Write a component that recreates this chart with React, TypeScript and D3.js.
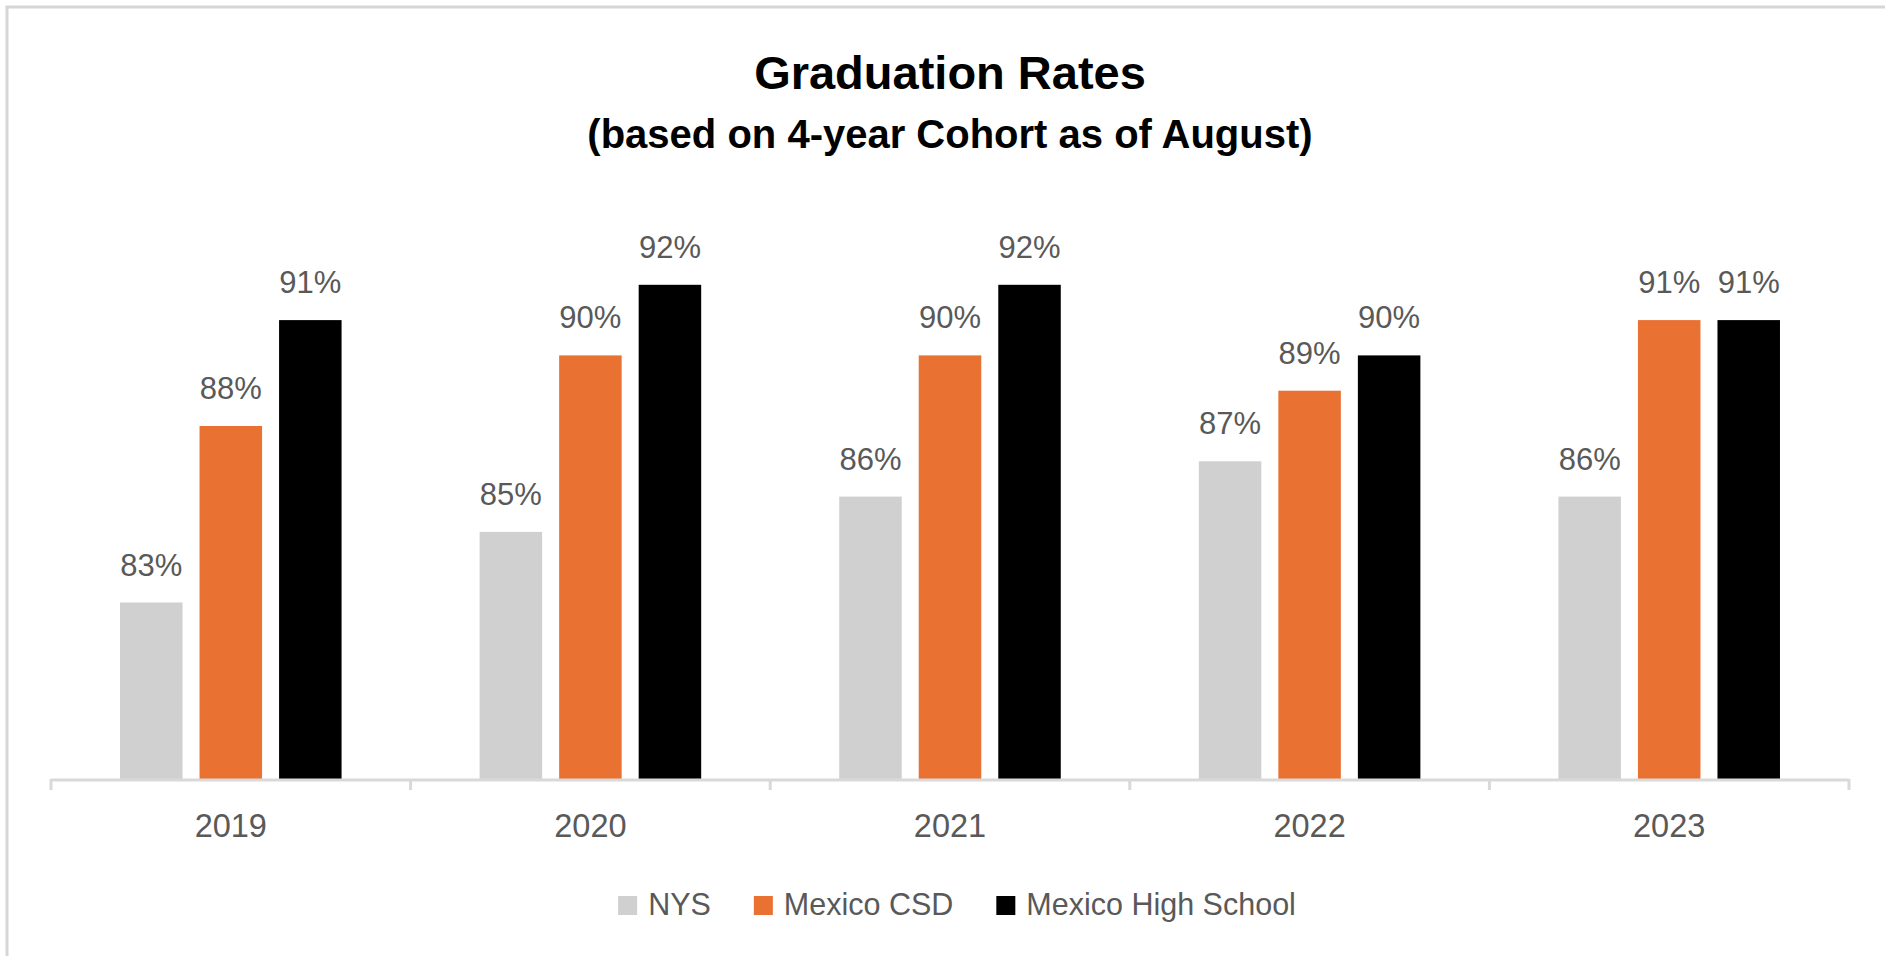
import React, { useEffect, useRef } from "react";
import * as d3 from "d3";

const years = ["2019", "2020", "2021", "2022", "2023"];
const seriesNames = ["NYS", "Mexico CSD", "Mexico High School"];
const nysRates = [83, 85, 86, 87, 86];
const csdRates = [88, 90, 90, 89, 91];
const highSchoolRates = [91, 92, 92, 90, 91];
const seriesColors = ["#d0d0d0", "#e97132", "#000000"];
const titleText = "Graduation Rates";
const subtitleText = "(based on 4-year Cohort as of August)";

const App = () => {
  const svgRef = useRef<SVGSVGElement>(null);

  useEffect(() => {
    document.body.style.margin = "0";
    const width = 1885;
    const height = 956;
    const plotLeft = 51;
    const plotRight = 1849;
    const baseline = 779;
    const labelGray = "#595959";
    const font = "'Liberation Sans', Arial, sans-serif";

    const values = [nysRates, csdRates, highSchoolRates];

    const svg = d3.select(svgRef.current);
    svg.selectAll("*").remove();
    svg.attr("viewBox", [0, 0, width, height]).style("font-family", font);

    svg.append("rect").attr("width", width).attr("height", height).attr("fill", "#fff");

    // chart area border (top + left edges only visible)
    svg
      .append("path")
      .attr("d", `M7,${height} V7 H${width}`)
      .attr("fill", "none")
      .attr("stroke", "#d6d6d6")
      .attr("stroke-width", 3);

    const x0 = d3.scaleBand().domain(years).range([plotLeft, plotRight]).padding(0);
    const x1 = d3
      .scaleBand()
      .domain(seriesNames)
      .range([0, x0.bandwidth()])
      .paddingInner(0.214)
      .paddingOuter(0.868);
    const y = d3.scaleLinear().domain([78, 94]).range([baseline, baseline - 16 * 35.3]);

    // titles
    svg
      .append("text")
      .attr("x", 950)
      .attr("y", 89)
      .attr("text-anchor", "middle")
      .style("font-size", "47px")
      .style("font-weight", "bold")
      .attr("fill", "#000")
      .text(titleText);
    svg
      .append("text")
      .attr("x", 950)
      .attr("y", 148)
      .attr("text-anchor", "middle")
      .style("font-size", "40px")
      .style("font-weight", "bold")
      .attr("fill", "#000")
      .text(subtitleText);

    // bars
    const groups = svg
      .append("g")
      .selectAll("g")
      .data(years)
      .join("g")
      .attr("transform", (d) => `translate(${x0(d)},0)`);

    groups
      .selectAll("rect")
      .data((d, i) => seriesNames.map((s, k) => ({ s, k, v: values[k][i] })))
      .join("rect")
      .attr("x", (d) => x1(d.s)!)
      .attr("y", (d) => y(d.v))
      .attr("width", x1.bandwidth())
      .attr("height", (d) => baseline - y(d.v))
      .attr("fill", (d) => seriesColors[d.k]);

    groups
      .selectAll("text")
      .data((d, i) => seriesNames.map((s, k) => ({ s, k, v: values[k][i] })))
      .join("text")
      .attr("x", (d) => x1(d.s)! + x1.bandwidth() / 2)
      .attr("y", (d) => y(d.v) - 27)
      .attr("text-anchor", "middle")
      .style("font-size", "31px")
      .attr("fill", labelGray)
      .text((d) => `${d.v}%`);

    // category axis
    const axis = svg.append("g");
    axis
      .append("line")
      .attr("x1", plotLeft)
      .attr("x2", plotRight)
      .attr("y1", baseline + 1)
      .attr("y2", baseline + 1)
      .attr("stroke", "#d9d9d9")
      .attr("stroke-width", 3);
    const tickXs = years.map((d) => x0(d)!).concat([plotRight]);
    axis
      .selectAll("line.tick")
      .data(tickXs)
      .join("line")
      .attr("class", "tick")
      .attr("x1", (d) => d)
      .attr("x2", (d) => d)
      .attr("y1", baseline)
      .attr("y2", baseline + 11)
      .attr("stroke", "#d9d9d9")
      .attr("stroke-width", 3);
    axis
      .selectAll("text")
      .data(years)
      .join("text")
      .attr("x", (d) => x0(d)! + x0.bandwidth() / 2)
      .attr("y", 837)
      .attr("text-anchor", "middle")
      .style("font-size", "32.5px")
      .attr("fill", labelGray)
      .text((d) => d);

    // legend
    const legend = svg.append("g");
    const swatch = 19;
    let cursor = 0;
    seriesNames.forEach((name, k) => {
      const item = legend.append("g").attr("transform", `translate(${cursor},0)`);
      item
        .append("rect")
        .attr("x", 0)
        .attr("y", 896)
        .attr("width", swatch)
        .attr("height", swatch)
        .attr("fill", seriesColors[k]);
      const t = item
        .append("text")
        .attr("x", swatch + 11)
        .attr("y", 915)
        .style("font-size", "30.5px")
        .attr("fill", labelGray)
        .text(name);
      const w = (t.node() as SVGTextElement).getComputedTextLength();
      cursor += swatch + 11 + w + 43;
    });
    const legendWidth = cursor - 43;
    legend.attr("transform", `translate(${957 - legendWidth / 2},0)`);
  }, []);

  return <svg ref={svgRef} width={1885} height={956} style={{ display: "block" }}></svg>;
};

export default App;
